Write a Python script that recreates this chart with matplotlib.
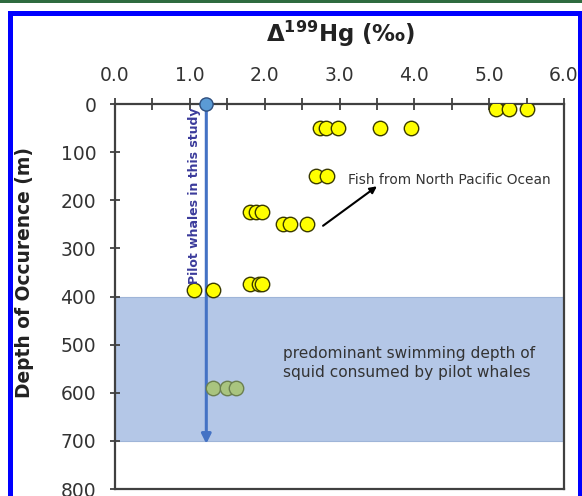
import matplotlib
matplotlib.use("Agg")
import matplotlib.pyplot as plt
from matplotlib.patches import Rectangle
from matplotlib.ticker import MultipleLocator

# ---- data ----
fish_x = [5.09, 5.27, 5.51,
          2.74, 2.82, 2.98, 3.54, 3.95,
          2.69, 2.83,
          1.81, 1.88, 1.96,
          2.25, 2.34, 2.57,
          1.81, 1.92, 1.96,
          1.05, 1.31]
fish_depth = [10, 10, 10,
              50, 50, 50, 50, 50,
              150, 150,
              225, 225, 225,
              250, 250, 250,
              374, 374, 374,
              387, 387]
squid_x = [1.31, 1.49, 1.62]
squid_depth = [590, 590, 590]
whale_x = 1.22
whale_depth = [0, 706]
squid_zone = [400, 700]
x_ticks = [0, 1, 2, 3, 4, 5, 6]
x_ticklabels = ["0.0", "1.0", "2.0", "3.0", "4.0", "5.0", "6.0"]
y_ticks = [0, 100, 200, 300, 400, 500, 600, 700, 800]

fig = plt.figure(figsize=(5.82, 4.96), dpi=100)
ax = fig.add_axes([0.1976, 0.0141, 0.7715, 0.7762])

ax.axhspan(squid_zone[0], squid_zone[1], facecolor="#b4c7e7",
           edgecolor="#9fb5d8", lw=0.8, zorder=1)

# whale line with arrow
ax.annotate("", xy=(whale_x, whale_depth[1]), xytext=(whale_x, whale_depth[0]),
            arrowprops=dict(arrowstyle="-|>", color="#4472c4", lw=2.2,
                            mutation_scale=14, shrinkA=0, shrinkB=0), zorder=3)
ax.plot([whale_x], [whale_depth[0]], "o", ms=9.5, mfc="#5b9bd5", mec="#2f4f7f",
        mew=1.0, clip_on=False, zorder=6)

ax.scatter(fish_x, fish_depth, s=108, c="#ffff00", edgecolors="#3a3a00",
           linewidths=1.0, zorder=4)
ax.scatter(squid_x, squid_depth, s=108, c="#a9c47f", edgecolors="#6b7f4f",
           linewidths=1.0, zorder=4)

ax.text(1.06, 190, "Pilot whales in this study", rotation=90, ha="center",
        va="center", fontsize=9, fontweight="bold", color="#3b3b9b", zorder=5)
ax.text(3.12, 157, "Fish from North Pacific Ocean", ha="left", va="center",
        fontsize=9.9, color="#333333", zorder=5)
ax.annotate("", xy=(3.50, 171), xytext=(2.78, 253),
            arrowprops=dict(arrowstyle="-|>", color="black", lw=1.5,
                            mutation_scale=10, shrinkA=0, shrinkB=0), zorder=5)
ax.text(2.25, 538, "predominant swimming depth of\nsquid consumed by pilot whales",
        ha="left", va="center", fontsize=11.1, color="#333333",
        linespacing=1.4, zorder=5)

ax.set_xlim(0, 6)
ax.set_ylim(800, 0)
ax.xaxis.tick_top()
ax.set_xticks(x_ticks)
ax.set_xticklabels(x_ticklabels)
ax.xaxis.set_minor_locator(MultipleLocator(0.5))
ax.set_yticks(y_ticks)
ax.tick_params(axis="x", which="both", direction="inout", length=8, width=1.3,
               color="#404040", labelsize=13.5, pad=9.5, labelcolor="#333333")
ax.tick_params(axis="y", which="both", direction="inout", length=7, width=1.3,
               color="#404040", labelsize=13.5, pad=10, labelcolor="#333333")
for s in ax.spines.values():
    s.set_color("#404040")
    s.set_linewidth(1.6)

fig.text(25 / 582, 1 - 272 / 496, "Depth of Occurence (m)", rotation=90,
         ha="center", va="center", fontsize=13.4, fontweight="bold", color="#222222")
fig.text(341 / 582, 1 - 34 / 496, "Δ$^{\\mathbf{199}}$Hg (‰)", ha="center",
         va="center", fontsize=16.5, fontweight="bold", color="#222222")

# figure frame decorations
fig.patches.append(Rectangle((0, 1 - 2.5 / 496), 1, 2.5 / 496, transform=fig.transFigure,
                             facecolor="#2e6b3f", edgecolor="none"))
blue = "#0000ff"
fig.patches.append(Rectangle((8 / 582, 0), 5 / 582, 1 - 11 / 496, transform=fig.transFigure,
                             facecolor=blue, edgecolor="none"))
fig.patches.append(Rectangle((8 / 582, 1 - 16 / 496), 570 / 582, 5 / 496,
                             transform=fig.transFigure, facecolor=blue, edgecolor="none"))
fig.patches.append(Rectangle((578 / 582, 0), 4 / 582, 1 - 11 / 496, transform=fig.transFigure,
                             facecolor=blue, edgecolor="none"))

fig.savefig("out.png", dpi=100)
